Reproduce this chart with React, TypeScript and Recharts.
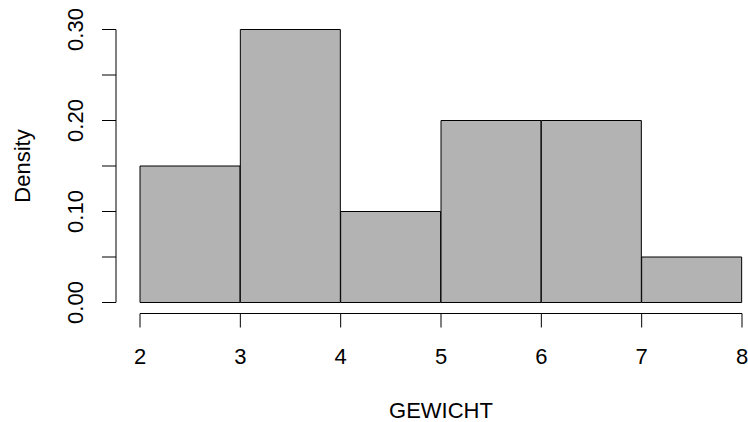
import { BarChart, Bar, XAxis, YAxis } from 'recharts'

// histogram of GEWICHT, bins of width 1
const binStarts = [2, 3, 4, 5, 6, 7]
const densities = [0.15, 0.3, 0.1, 0.2, 0.2, 0.05]
const xTicks = [2, 3, 4, 5, 6, 7, 8]
const yTicks = [0, 0.05, 0.1, 0.15, 0.2, 0.25, 0.3]
const yLabelled = [0, 0.1, 0.2, 0.3]

const data = binStarts.map((lo, i) => ({
  bin: `${lo}-${lo + 1}`,
  lo,
  density: densities[i]
}))

const FONT = 'Liberation Sans, Arial, sans-serif'
const FS = 22

function XTick({ x, y, payload }: any) {
  return (
    <text x={x} y={y} dy="0.35em" textAnchor="middle" fontSize={FS} fontFamily={FONT} fill="#000">
      {payload.value}
    </text>
  )
}

function YTick({ x, y, payload }: any) {
  if (!yLabelled.some(v => Math.abs(v - payload.value) < 1e-9)) return null
  return (
    <text
      x={x}
      y={y}
      dy="0.35em"
      textAnchor="middle"
      fontSize={FS}
      fontFamily={FONT}
      fill="#000"
      transform={`rotate(-90, ${x}, ${y})`}
    >
      {payload.value.toFixed(2)}
    </text>
  )
}

export default function App() {
  return (
    <div style={{ position: 'absolute', left: 0, top: 0, background: '#fff' }}>
      <BarChart
        width={748}
        height={422}
        data={data}
        margin={{ top: 29.5, right: 6, bottom: 0, left: 0 }}
        barCategoryGap={0}
      >
        {/* spacer axes (ids sort first) push the drawn axes away from the bars */}
        <XAxis xAxisId="a-gap" dataKey="bin" height={11} axisLine={false} tickLine={false} tick={false} />
        <XAxis
          xAxisId="b-num"
          type="number"
          dataKey="lo"
          domain={[2, 8]}
          ticks={xTicks}
          allowDataOverflow
          height={108.5}
          stroke="#000"
          tickSize={14}
          tickMargin={29}
          tick={(p: any) => <XTick {...p} />}
          label={{
            content: ({ viewBox }: any) => (
              <text
                x={viewBox.x + viewBox.width / 2}
                y={viewBox.y + 97}
                dy="0.35em"
                textAnchor="middle"
                fontSize={FS}
                fontFamily={FONT}
                fill="#000"
              >
                GEWICHT
              </text>
            )
          }}
        />
        <YAxis yAxisId="a-gap" domain={[0, 0.3]} ticks={yTicks} width={24} axisLine={false} tickLine={false} tick={false} />
        <YAxis
          yAxisId="b-dens"
          domain={[0, 0.3]}
          ticks={yTicks}
          width={116}
          stroke="#000"
          tickSize={14}
          tickMargin={27}
          tick={(p: any) => <YTick {...p} />}
          label={{
            content: ({ viewBox }: any) => {
              const cy = viewBox.y + viewBox.height / 2
              return (
                <text
                  x={22}
                  y={cy}
                  dy="0.35em"
                  textAnchor="middle"
                  fontSize={FS}
                  fontFamily={FONT}
                  fill="#000"
                  transform={`rotate(-90, 22, ${cy})`}
                >
                  Density
                </text>
              )
            }
          }}
        />
        <Bar
          xAxisId="a-gap"
          yAxisId="b-dens"
          dataKey="density"
          fill="#B3B3B3"
          stroke="#000"
          strokeWidth={1}
          isAnimationActive={false}
        />
      </BarChart>
    </div>
  )
}
